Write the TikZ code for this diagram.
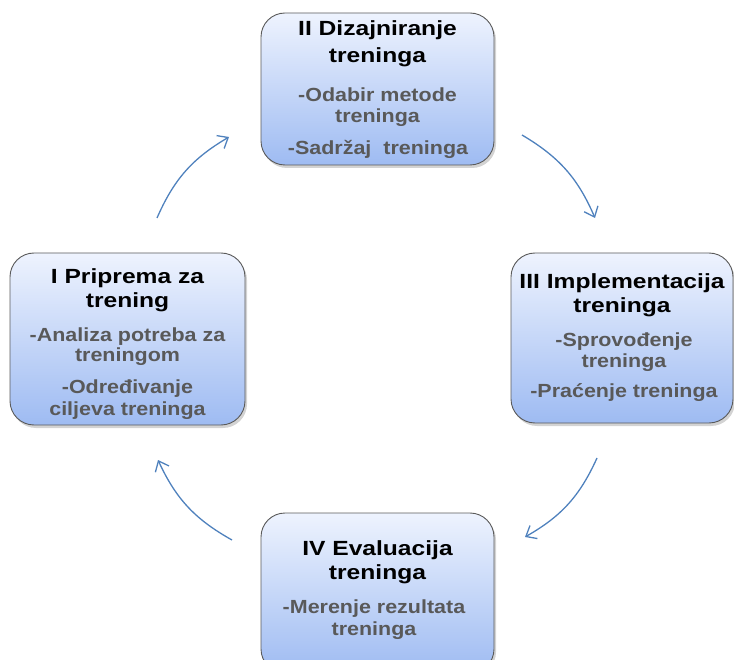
\documentclass[tikz,border=0pt]{standalone}
\usepackage{fontspec}
\setmainfont{Liberation Sans}
\newfontfamily\titlefont[FakeStretch=1.2]{Liberation Sans}
\newfontfamily\subfont[FakeStretch=1.13]{Liberation Sans}
\usetikzlibrary{arrows.meta,shadows}
\definecolor{boxtop}{HTML}{EEF3FE}
\definecolor{boxbot}{HTML}{9EBBF2}
\definecolor{boxline}{HTML}{5A5A5A}
\definecolor{subgray}{HTML}{595959}
\definecolor{arrblue}{HTML}{4F81BD}
\tikzset{
  stagebox/.style={draw=boxline, line width=0.9pt, rounded corners=24pt,
    top color=boxtop, bottom color=boxbot,
    drop shadow={opacity=0.35, shadow xshift=2pt, shadow yshift=-3pt},
    minimum width=#1, inner sep=0pt},
  titletext/.style={font=\titlefont\bfseries\fontsize{20.5}{24}\selectfont, text=black, inner sep=0pt, anchor=base},
  subtext/.style={font=\subfont\bfseries\fontsize{19}{22}\selectfont, text=subgray, inner sep=0pt, anchor=base},
  cyclearrow/.style={draw=arrblue, line width=1.3pt, -{Straight Barb[length=9pt,width=15pt]}}
}
\begin{document}
\begin{tikzpicture}[x=1pt,y=-1pt]
\useasboundingbox (0,0) rectangle (734,660);
\clip (0,0) rectangle (734,660);
% boxes
\node[stagebox=233pt, minimum height=152pt] (b2) at (377.5,89) {};
\node[stagebox=222pt, minimum height=170pt] (b3) at (622,338) {};
\node[stagebox=235pt, minimum height=172pt] (b1) at (127.5,339) {};
\node[stagebox=233pt, minimum height=160pt] (b4) at (377.5,593) {};
% texts box II
\node[titletext] (t2a) at (377.5,36) {II Dizajniranje};
\node[titletext] (t2b) at (377.5,63) {treninga};
\node[subtext] (t2c) at (377.5,101.5) {-Odabir metode};
\node[subtext] (t2d) at (377.5,122.5) {treninga};
\node[subtext] (t2e) at (378,155) {-Sadržaj~~treninga};
% texts box III
\node[titletext] (t3a) at (622,289) {III Implementacija};
\node[titletext] (t3b) at (622,313) {treninga};
\node[subtext] (t3c) at (624,347) {-Sprovođenje};
\node[subtext] (t3d) at (624,368) {treninga};
\node[subtext] (t3e) at (624,398) {-Praćenje treninga};
% texts box I
\node[titletext] (t1a) at (127.5,284) {I Priprema za};
\node[titletext] (t1b) at (127.5,308) {trening};
\node[subtext] (t1c) at (127.5,342) {-Analiza potreba za};
\node[subtext] (t1d) at (127.5,362) {treningom};
\node[subtext] (t1e) at (127.5,393) {-Određivanje};
\node[subtext] (t1f) at (127.5,415) {ciljeva treninga};
% texts box IV
\node[titletext] (t4a) at (377.5,555) {IV Evaluacija};
\node[titletext] (t4b) at (377.5,579) {treninga};
\node[subtext] (t4c) at (374,613) {-Merenje rezultata};
\node[subtext] (t4d) at (374,635) {treninga};
% arrows
\coordinate (a1s) at (157,218);
\coordinate (a1e) at (229,137);
\coordinate (a2s) at (522,135);
\coordinate (a2e) at (595,218);
\coordinate (a3s) at (597,458);
\coordinate (a3e) at (525,537);
\coordinate (a4s) at (232,540);
\coordinate (a4e) at (158,460);
\draw[cyclearrow] (a1s) to[bend left=18] (a1e);
\draw[cyclearrow] (a2s) to[bend left=18] (a2e);
\draw[cyclearrow] (a3s) to[bend left=18] (a3e);
\draw[cyclearrow] (a4s) to[bend left=18] (a4e);
\end{tikzpicture}
\end{document}
